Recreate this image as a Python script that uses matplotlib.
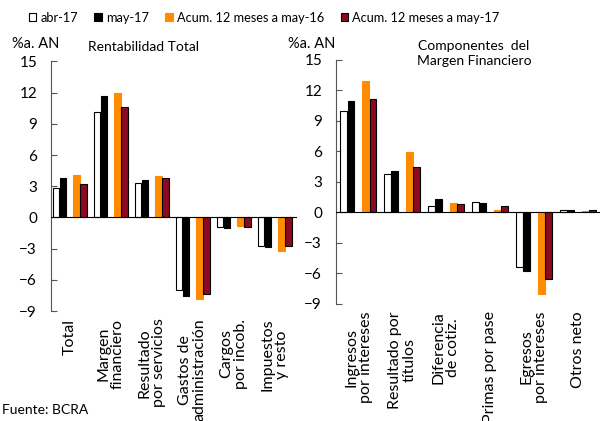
import matplotlib
matplotlib.use("Agg")
import matplotlib.pyplot as plt
from matplotlib.patches import Patch
import numpy as np

plt.rcParams['font.family'] = ['Lato', 'DejaVu Sans']

# data (%a. anualizado)
series = ['abr-17', 'may-17', 'Acum. 12 meses a may-16', 'Acum. 12 meses a may-17']
colors = ['white', 'black', '#FF8C00', '#8B0A22']
edges = ['black', 'black', '#FF8C00', 'black']

cats_left = ['Total', 'Margen\nfinanciero', 'Resultado\npor servicios', 'Gastos de\nadministración',
             'Cargos\npor incob.', 'Impuestos\ny resto']
abr_left = [2.8, 10.1, 3.3, -6.95, -0.9, -2.7]
may_left = [3.75, 11.65, 3.6, -7.5, -1.05, -2.8]
acum16_left = [4.1, 12.0, 4.0, -7.8, -0.8, -3.2]
acum17_left = [3.25, 10.6, 3.75, -7.35, -0.9, -2.7]

cats_right = ['Ingresos\npor intereses', 'Resultado por\ntítulos', 'Diferencia\nde cotiz.',
              'Primas por pase', 'Egresos\npor intereses', 'Otros neto']
abr_right = [10.0, 3.75, 0.6, 1.0, -5.4, 0.2]
may_right = [10.95, 4.05, 1.3, 0.9, -5.75, 0.2]
acum16_right = [12.95, 5.9, 0.9, 0.2, -8.05, 0.1]
acum17_right = [11.2, 4.45, 0.85, 0.6, -6.5, 0.2]

yticks = [-9, -6, -3, 0, 3, 6, 9, 12, 15]

fig = plt.figure(figsize=(6, 4.21), dpi=100)
ax1 = fig.add_axes([0.085, 0.261, 0.408, 0.593])
ax2 = fig.add_axes([0.56, 0.278, 0.44, 0.5796])

slots = [0.5, 1.5, 3.5, 4.5]


def draw(ax, cats, vals, xlim):
    x = np.arange(len(cats)) * 6
    for i, v in enumerate(vals):
        ax.bar(x + slots[i], v, width=0.95, color=colors[i], edgecolor=edges[i], linewidth=0.8, zorder=2)
    ax.set_ylim(-9, 15)
    ax.set_xlim(*xlim)
    ax.set_yticks(yticks)
    ax.tick_params(axis='y', direction='in', length=4, pad=10, labelsize=11, color='#555555')
    ax.set_xticks([])
    for s in ['top', 'right']:
        ax.spines[s].set_visible(False)
    ax.spines['bottom'].set_position(('data', 0))
    ax.spines['bottom'].set_zorder(3)
    ax.spines['left'].set_color('#555555')
    # category labels below the plot area, centred on each group
    for xi, c in zip(x + 2.5, cats):
        ax.text(xi, -0.03, c, transform=ax.get_xaxis_transform(), rotation=90,
                ha='center', va='top', multialignment='center', fontsize=11.5, linespacing=1.05)


draw(ax1, cats_left, [abr_left, may_left, acum16_left, acum17_left], (-0.25, 35.6))
draw(ax2, cats_right, [abr_right, may_right, acum16_right, acum17_right], (-0.55, 35.5))

fig.text(0.02, 0.895, '%a. AN', fontsize=10.5, va='center')
fig.text(0.48, 0.895, '%a. AN', fontsize=10.5, va='center')
fig.text(0.24, 0.8895, 'Rentabilidad Total', fontsize=10, ha='center', va='center')
fig.text(0.79, 0.873, 'Componentes  del\nMargen Financiero', fontsize=10, ha='center', va='center',
         multialignment='center', linespacing=1.25)
fig.text(0.003, 0.025, 'Fuente: BCRA', fontsize=10, va='center')

handles = [Patch(facecolor=colors[i], edgecolor='black' if i != 2 else colors[i], linewidth=0.8)
           for i in range(4)]
fig.legend(handles, series, loc='center', bbox_to_anchor=(0.44, 0.958), ncol=4, frameon=False,
           fontsize=9.2, handlelength=0.6, handleheight=0.6, handletextpad=0.3, columnspacing=1.3)

fig.savefig('out.png', dpi=100)
